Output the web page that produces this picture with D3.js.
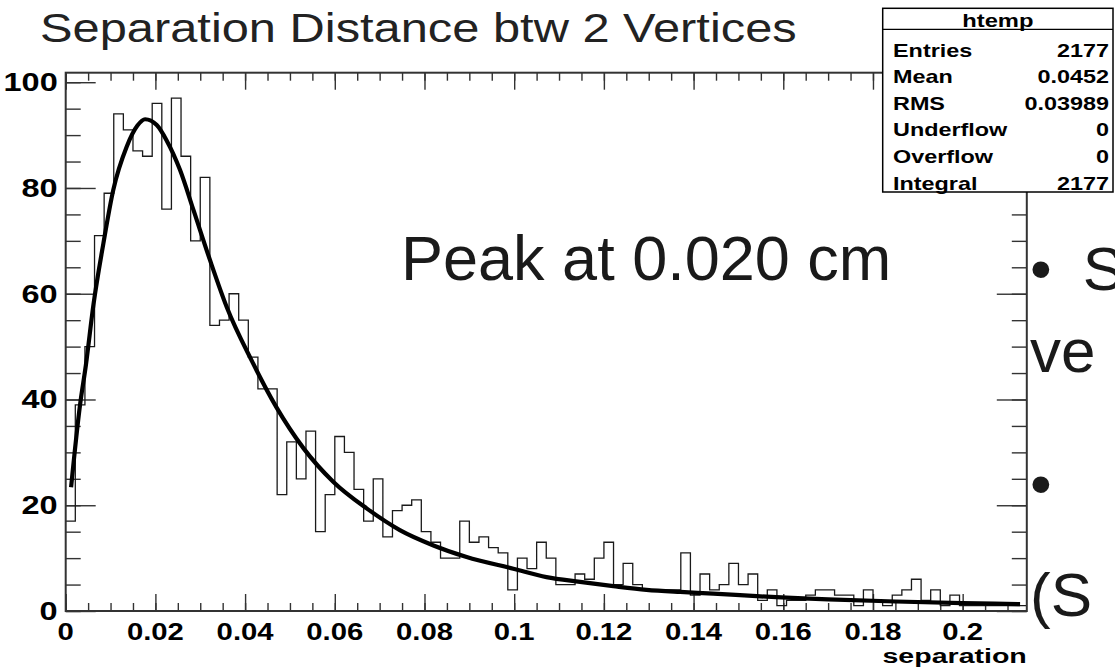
<!DOCTYPE html>
<html><head><meta charset="utf-8">
<script src="https://cdn.jsdelivr.net/npm/d3@7"></script>
<style>body{margin:0;background:#fff}svg{display:block}</style>
</head><body>
<svg id="c" width="1115" height="669"></svg>
<script>
// ---------- data ----------
const binCounts = [17,39,50,71,79,94,91,87,86,96,
  76,97,86,70,82,54,55,60,55,48,
  42,42,22,32,25,34,15,22,33,30,
  23,17,25,14,19,20,21,15,13,10,
  10,17,13,14,12,11,4,10,8,13,
  10,5,5,7,6,10,13,5,9,5,
  4,4,4,4,11,3,7,4,5,9,
  5,7,2,4,1,2,2,3,4,4,
  3,3,1,4,2,1,3,4,6,2,
  4,1,3,1,1,1,1,1,1,1];
const xMin = 0, xMax = 0.2143, yMax = 101.8;
const fitX = [0.0012,0.0032,0.0045,0.0062,0.0084,0.0106,0.0136,0.0160,0.0177,0.0203,0.0225,0.0255,0.0285,0.0322,0.0359,0.0415,0.047,0.053,0.0597,0.0671,0.0745,0.082,0.0894,0.0998,0.1072,0.1147,0.1221,0.1295,0.137,0.1444,0.1541,0.17,0.185,0.2,0.2128];
const fitY = [23.4,39,46.5,58,69.5,79.6,87.8,91.8,93.0,91.9,89.0,83.4,75.8,66.3,57.5,47.3,38.5,30.8,24.4,19.4,15.3,12.4,10.2,8.0,6.4,5.5,4.7,4.0,3.6,3.3,2.8,2.2,1.8,1.5,1.3];
const xMajorTicks = [0,0.02,0.04,0.06,0.08,0.1,0.12,0.14,0.16,0.18,0.2];
const xTickLabels = ["0","0.02","0.04","0.06","0.08","0.1","0.12","0.14","0.16","0.18","0.2"];
const yMajorTicks = [0,20,40,60,80,100];
const yTickLabels = ["0","20","40","60","80","100"];
const statsTitle = "htemp";
const statsLabels = ["Entries","Mean","RMS","Underflow","Overflow","Integral"];
const statsValues = ["2177","0.0452","0.03989","0","0","2177"];
const chartTitle = "Separation Distance btw 2 Vertices";
const xAxisTitle = "separation";
const noteText = "Peak at 0.020 cm";
const sideLines = ["\u2022\u2002S","ve","\u2022","(S"];

// ---------- layout ----------
const L = 65.7, R = 1026.8, T = 72.7, B = 611;
const FONT = "'Liberation Sans', Arial, Helvetica, sans-serif";
const svg = d3.select("#c");
svg.append("rect").attr("width",1115).attr("height",669).attr("fill","#fff");

const x = d3.scaleLinear().domain([xMin, xMax]).range([L, R]);
const y = d3.scaleLinear().domain([0, yMax]).range([B, T]);

function stext(g, str, px, py, o) {
  o = o || {};
  return g.append("text")
    .attr("transform", `translate(${px},${py}) scale(${o.sx || 1},1)`)
    .attr("text-anchor", o.anchor || "start")
    .attr("font-family", FONT)
    .attr("font-size", o.size || 20)
    .attr("font-weight", o.weight || "normal")
    .attr("fill", o.fill || "#000")
    .text(str);
}

// axes ticks (inside, mirrored)
const xMinor = d3.range(0, 43).map(k => k * 0.005);
const yMinor = d3.range(0, 21).map(k => k * 5);
const axStyle = g => g.call(s => s.select(".domain").remove())
  .selectAll("line").attr("stroke", "#333").attr("stroke-width", 1.4);

svg.append("g").attr("transform", `translate(0,${B})`)
  .call(d3.axisBottom(x).tickValues(xMinor).tickSize(-8).tickFormat("")).call(axStyle);
svg.append("g").attr("transform", `translate(0,${B})`)
  .call(d3.axisBottom(x).tickValues(xMajorTicks).tickSize(-17).tickFormat("")).call(axStyle);
svg.append("g").attr("transform", `translate(0,${T})`)
  .call(d3.axisTop(x).tickValues(xMinor).tickSize(-8).tickFormat("")).call(axStyle);
svg.append("g").attr("transform", `translate(0,${T})`)
  .call(d3.axisTop(x).tickValues(xMajorTicks).tickSize(-17).tickFormat("")).call(axStyle);
svg.append("g").attr("transform", `translate(${L},0)`)
  .call(d3.axisLeft(y).tickValues(yMinor).tickSize(-15).tickFormat("")).call(axStyle);
svg.append("g").attr("transform", `translate(${L},0)`)
  .call(d3.axisLeft(y).tickValues(yMajorTicks).tickSize(-30).tickFormat("")).call(axStyle);
svg.append("g").attr("transform", `translate(${R},0)`)
  .call(d3.axisRight(y).tickValues(yMinor).tickSize(-15).tickFormat("")).call(axStyle);
svg.append("g").attr("transform", `translate(${R},0)`)
  .call(d3.axisRight(y).tickValues(yMajorTicks).tickSize(-30).tickFormat("")).call(axStyle);

// histogram outline
const nb = binCounts.length;
const edges = d3.range(nb + 1).map(i => xMin + i * (xMax - xMin) / nb);
const histPts = binCounts.map((c, i) => [edges[i], c]);
histPts.push([edges[nb], binCounts[nb - 1]]);
svg.append("path")
  .attr("d", d3.line().x(d => x(d[0])).y(d => y(d[1])).curve(d3.curveStepAfter)(histPts))
  .attr("fill", "none").attr("stroke", "#1a1a1a").attr("stroke-width", 1.3);

// fit curve
const fitPts = fitX.map((v, i) => [v, fitY[i]]);
svg.append("path")
  .attr("d", d3.line().x(d => x(d[0])).y(d => y(d[1])).curve(d3.curveMonotoneX)(fitPts))
  .attr("fill", "none").attr("stroke", "#000").attr("stroke-width", 4.2)
  .attr("stroke-linejoin", "round");

// frame
svg.append("rect").attr("x", L).attr("y", T).attr("width", R - L).attr("height", B - T)
  .attr("fill", "none").attr("stroke", "#333").attr("stroke-width", 2);

// tick labels
const gl = svg.append("g");
xMajorTicks.forEach((v, i) => stext(gl, xTickLabels[i], x(v), B + 29, {anchor: "middle", size: 24, weight: "bold", sx: 1.22}));
yMajorTicks.forEach((v, i) => stext(gl, yTickLabels[i], L - 8, y(v) + 9, {anchor: "end", size: 25, weight: "bold", sx: 1.3}));
stext(gl, xAxisTitle, R, 663, {anchor: "end", size: 21, weight: "bold", sx: 1.36});

// stats box
const bx0 = 882.7, bx1 = 1113, by0 = 8.3, by1 = 192, hdr = 29.3;
const gs = svg.append("g");
gs.append("rect").attr("x", bx0).attr("y", by0).attr("width", bx1 - bx0).attr("height", by1 - by0)
  .attr("fill", "#fff").attr("stroke", "#000").attr("stroke-width", 1.5);
gs.append("line").attr("x1", bx0).attr("x2", bx1).attr("y1", hdr).attr("y2", hdr)
  .attr("stroke", "#000").attr("stroke-width", 1.3);
stext(gs, statsTitle, (bx0 + bx1) / 2, 27, {anchor: "middle", size: 19, weight: "bold", sx: 1.25});
const rowY = d3.scaleLinear().domain([0, statsLabels.length - 1]).range([50, 183]);
statsLabels.forEach((s, i) => {
  stext(gs, s, 893, rowY(i) + 6.5, {size: 18, weight: "bold", sx: 1.3});
  stext(gs, statsValues[i], 1109, rowY(i) + 6.5, {anchor: "end", size: 18, weight: "bold", sx: 1.3});
});

// titles and slide text
stext(svg, chartTitle, 40, 42, {size: 40, sx: 1.22, fill: "#222"});
stext(svg, noteText, 401, 280, {size: 63, fill: "#1a1a1a"});
const sideY = [290, 372, 505, 616];
sideLines.forEach((s, i) => stext(svg, s, 1030, sideY[i], {size: 62, fill: "#1a1a1a"}));
</script>
</body></html>
